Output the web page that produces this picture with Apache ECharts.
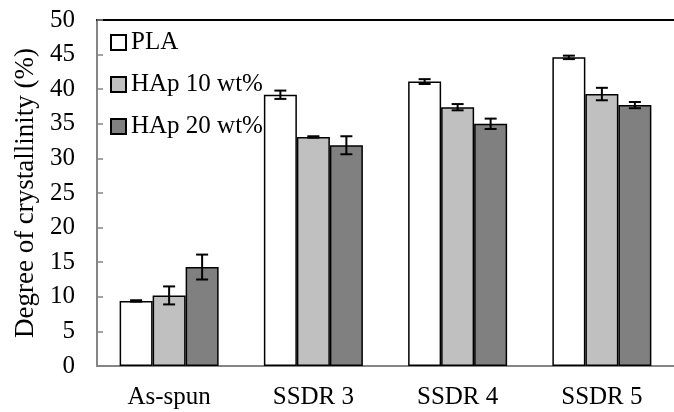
<!DOCTYPE html>
<html>
<head>
<meta charset="utf-8">
<script src="https://cdn.jsdelivr.net/npm/echarts@6/dist/echarts.min.js"></script>
<style>
  html, body { margin: 0; padding: 0; background: #fff; }
  #chart { width: 674px; height: 412px; }
</style>
</head>
<body>
<div id="chart"></div>
<script>
const categories = ['As-spun', 'SSDR 3', 'SSDR 4', 'SSDR 5'];
const seriesNames = ['PLA', 'HAp 10 wt%', 'HAp 20 wt%'];
const pla = [9.4, 39.2, 41.1, 44.6];
const hap10 = [10.2, 33.1, 37.4, 39.3];
const hap20 = [14.3, 31.9, 35.0, 37.7];
const plaErr = [0.1, 0.6, 0.35, 0.25];
const hap10Err = [1.3, 0.1, 0.45, 0.9];
const hap20Err = [1.8, 1.3, 0.75, 0.45];
const yTicks = [0, 5, 10, 15, 20, 25, 30, 35, 40, 45, 50];

const values = [pla, hap10, hap20];
const errors = [plaErr, hap10Err, hap20Err];
const colors = ['#ffffff', '#c0c0c0', '#808080'];
const font = 'Liberation Serif';
const barW = 33;

// error bar rows: [category, series, low, high]
const errRows = [];
values.forEach((vals, s) => {
    vals.forEach((v, i) => {
        errRows.push([i, s, v - errors[s][i], v + errors[s][i]]);
    });
});

const option = {
    animation: false,
    backgroundColor: '#fff',
    grid: { left: 97, top: 20, width: 588, height: 346 },
    legend: {
        orient: 'vertical',
        left: 105,
        top: 25,
        itemWidth: 15,
        itemHeight: 15,
        itemGap: 17,
        icon: 'rect',
        data: seriesNames,
        textStyle: { fontFamily: font, fontSize: 25, color: '#000' }
    },
    xAxis: [{
        type: 'category',
        data: categories,
        axisLine: { lineStyle: { color: '#858585', width: 2 } },
        axisTick: { inside: true, length: 6, lineStyle: { color: '#858585', width: 1.5 } },
        axisLabel: { fontFamily: font, fontSize: 25, color: '#000', margin: 19 }
    }, {
        type: 'category',
        data: categories,
        position: 'top',
        axisLine: { lineStyle: { color: '#000', width: 2 } },
        axisTick: { show: false },
        axisLabel: { show: false }
    }],
    yAxis: {
        type: 'value',
        min: yTicks[0],
        max: yTicks[yTicks.length - 1],
        interval: 5,
        name: 'Degree of crystallinity (%)',
        nameLocation: 'middle',
        nameGap: 58,
        nameTextStyle: { fontFamily: font, fontSize: 27, color: '#000' },
        axisLine: { show: true, lineStyle: { color: '#858585', width: 2 } },
        axisTick: { show: true, inside: true, length: 6, lineStyle: { color: '#858585', width: 1.5 } },
        axisLabel: { fontFamily: font, fontSize: 25, color: '#000', margin: 22 },
        splitLine: { show: false }
    },
    series: seriesNames.map((name, s) => ({
        name: name,
        type: 'bar',
        data: values[s],
        barWidth: barW,
        barGap: '0%',
        itemStyle: { color: colors[s], borderColor: '#000', borderWidth: 1.5 }
    })).concat([{
        type: 'custom',
        name: 'err',
        data: errRows,
        z: 10,
        renderItem: function (params, api) {
            const cat = api.value(0);
            const s = api.value(1);
            const lo = api.coord([cat, api.value(2)]);
            const hi = api.coord([cat, api.value(3)]);
            const x = lo[0] + (s - 1) * barW;
            const cap = 6;
            const st = { stroke: '#000', lineWidth: 2 };
            return {
                type: 'group',
                children: [
                    { type: 'line', shape: { x1: x, y1: lo[1], x2: x, y2: hi[1] }, style: st },
                    { type: 'line', shape: { x1: x - cap, y1: lo[1], x2: x + cap, y2: lo[1] }, style: st },
                    { type: 'line', shape: { x1: x - cap, y1: hi[1], x2: x + cap, y2: hi[1] }, style: st }
                ]
            };
        }
    }])
};

echarts.init(document.getElementById('chart')).setOption(option);
</script>
</body>
</html>
